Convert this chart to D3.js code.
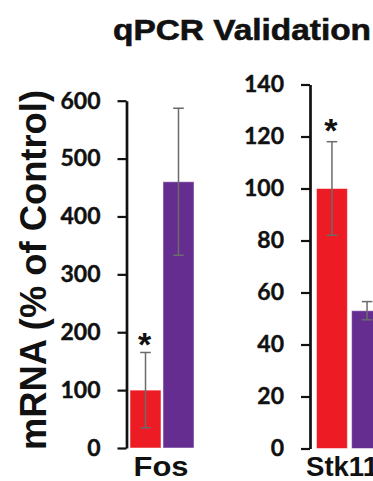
<!DOCTYPE html>
<html>
<head>
<meta charset="utf-8">
<script src="https://cdn.jsdelivr.net/npm/d3@7"></script>
<style>
html,body{margin:0;padding:0;background:#fff;}
svg{display:block;}
</style>
</head>
<body>
<svg id="chart" width="373" height="481"></svg>
<script>
// ---- data ----
const title = "qPCR Validation";
const yLabel = "mRNA (% of Control)";
const genes = ["Fos", "Stk11"];
const groups = ["Control", "Treated"];
const fosValues = [100, 460];
const fosErrors = [65, 127];
const stk11Values = [100, 53];
const stk11Errors = [18, 3.5];
const fosTicks = [0, 100, 200, 300, 400, 500, 600];
const stk11Ticks = [0, 20, 40, 60, 80, 100, 120, 140];
const fosMarks = ["*", ""];
const stk11Marks = ["*", ""];
const colors = ["#ED1C24", "#662D91"];

const svg = d3.select("#chart");

// title
svg.append("text")
  .attr("x", 113).attr("y", 40)
  .attr("font-family", "Liberation Sans, Arial, sans-serif")
  .attr("font-weight", "bold")
  .attr("font-size", 29)
  .attr("textLength", 258).attr("lengthAdjust", "spacingAndGlyphs")
  .attr("fill", "#111").attr("stroke", "#111").attr("stroke-width", 0.6)
  .text(title);

// y label
svg.append("text")
  .attr("transform", "translate(46,270) rotate(-90)")
  .attr("text-anchor", "middle")
  .attr("font-family", "Liberation Sans, Arial, sans-serif")
  .attr("font-weight", "bold")
  .attr("font-size", 36)
  .attr("textLength", 360).attr("lengthAdjust", "spacingAndGlyphs")
  .attr("fill", "#111")
  .text(yLabel);

const panels = [
  {gene: genes[0], values: fosValues, errors: fosErrors, ticks: fosTicks, marks: fosMarks,
   axisX: 126.5, y0: 448, y1: 100.7, xStart: 130, xWidth: 64, pad: 0.06,
   labelX: 161, labelLen: 55, sigDy: 4},
  {gene: genes[1], values: stk11Values, errors: stk11Errors, ticks: stk11Ticks, marks: stk11Marks,
   axisX: 310, y0: 448.5, y1: 84.5, xStart: 316.5, xWidth: 66, pad: 0.12,
   labelX: 342, labelLen: 72, sigDy: 0}
];

panels.forEach(p => {
  const y = d3.scaleLinear().domain([0, d3.max(p.ticks)]).range([p.y0, p.y1]);
  const x = d3.scaleBand().domain(groups).range([p.xStart, p.xStart + p.xWidth]).paddingInner(p.pad);
  const g = svg.append("g");

  // bars
  g.selectAll("rect.bar").data(groups).enter().append("rect")
    .attr("class", "bar")
    .attr("x", d => x(d))
    .attr("width", x.bandwidth())
    .attr("y", (d, i) => y(p.values[i]))
    .attr("height", (d, i) => y(0) - y(p.values[i]))
    .attr("fill", (d, i) => colors[i])
    .attr("stroke", "#fff").attr("stroke-opacity", 0.5).attr("stroke-width", 1);

  // error bars
  const eb = g.selectAll("g.err").data(groups).enter().append("g").attr("class", "err")
    .attr("stroke", "#6b6b6b").attr("stroke-width", 1.5);
  eb.append("line")
    .attr("x1", d => x(d) + x.bandwidth() / 2).attr("x2", d => x(d) + x.bandwidth() / 2)
    .attr("y1", (d, i) => y(p.values[i] + p.errors[i]))
    .attr("y2", (d, i) => y(p.values[i] - p.errors[i]));
  [1, -1].forEach(s => {
    eb.append("line")
      .attr("x1", d => x(d) + x.bandwidth() / 2 - 5.3).attr("x2", d => x(d) + x.bandwidth() / 2 + 5.3)
      .attr("y1", (d, i) => y(p.values[i] + s * p.errors[i]))
      .attr("y2", (d, i) => y(p.values[i] + s * p.errors[i]));
  });

  // significance marks
  g.selectAll("text.sig").data(groups).enter().append("text")
    .attr("class", "sig")
    .attr("x", d => x(d) + x.bandwidth() / 2 - 1)
    .attr("y", (d, i) => y(p.values[i] + p.errors[i]) + p.sigDy)
    .attr("text-anchor", "middle")
    .attr("font-family", "Liberation Sans, Arial, sans-serif")
    .attr("font-weight", "bold")
    .attr("font-size", 34)
    .attr("fill", "#111")
    .text((d, i) => p.marks[i]);

  // axis
  const axis = d3.axisLeft(y).tickValues(p.ticks).tickSize(9).tickPadding(17).tickSizeOuter(0);
  const ag = g.append("g").attr("transform", `translate(${p.axisX},0)`).call(axis);
  ag.select(".domain").attr("stroke", "#111").attr("stroke-width", 2.7);
  ag.selectAll(".tick line").attr("stroke", "#111").attr("stroke-width", 2.2);
  ag.selectAll(".tick text")
    .attr("font-family", "Lato, sans-serif")
    .attr("font-weight", 700)
    .attr("font-size", 23)
    .attr("fill", "#111").attr("stroke", "#111").attr("stroke-width", 0.4);

  // category label
  g.append("text")
    .attr("x", p.labelX).attr("y", 476)
    .attr("text-anchor", "middle")
    .attr("font-family", "Liberation Sans, Arial, sans-serif")
    .attr("font-weight", "bold")
    .attr("font-size", 27)
    .attr("textLength", p.labelLen).attr("lengthAdjust", "spacingAndGlyphs")
    .attr("fill", "#111")
    .text(p.gene);
});
</script>
</body>
</html>
